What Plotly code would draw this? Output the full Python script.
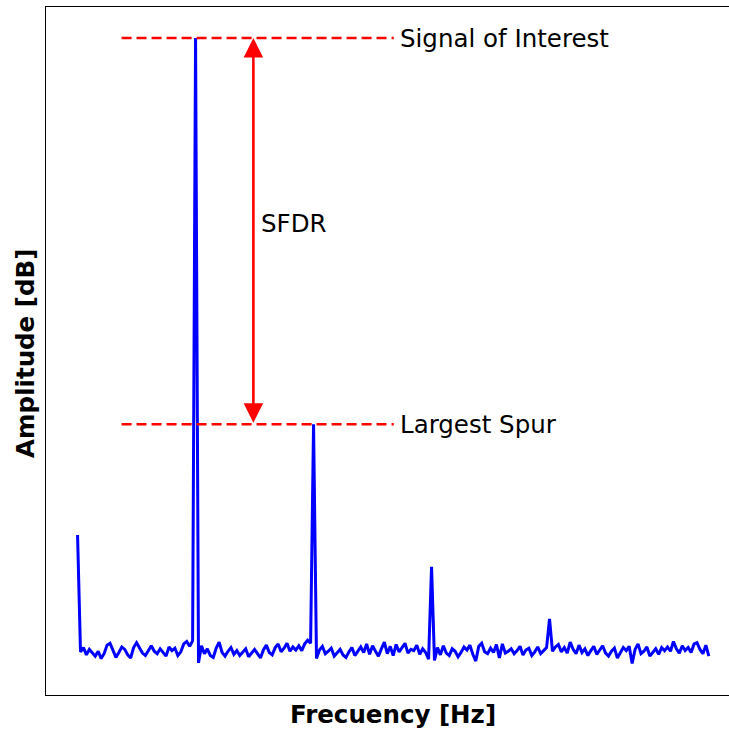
import plotly.graph_objects as go

# Spectrum amplitude (dB), one value every 0.025 frequency units starting at 0
amplitude_db = [
    # 0.000 - 0.975 (DC spur + noise)
    -81.2, -100.3, -99.6, -100.8, -99.9, -100.5, -101.0, -100.2, -101.4, -100.6,
    -99.2, -98.9, -100.1, -101.2, -100.4, -99.5, -99.9, -100.8, -101.3, -99.6,
    -98.8, -99.7, -100.5, -100.9, -100.0, -99.3, -100.2, -100.6, -99.8, -100.4,
    -101.0, -99.5, -100.1, -99.7, -100.9, -100.3, -99.0, -98.6, -99.4, -98.5,
    # 1.000 - 1.975 (signal of interest)
    0.0, -102.1, -99.3, -100.6, -99.8, -100.9, -101.2, -99.7, -98.7, -100.4,
    -101.0, -100.2, -99.6, -100.7, -100.1, -100.9, -100.3, -99.8, -101.1, -100.5,
    -99.9, -100.6, -101.3, -100.0, -99.2, -100.4, -100.8, -99.6, -99.0, -100.3,
    -99.7, -98.9, -100.2, -99.5, -100.0, -99.3, -100.1, -99.0, -98.4, -98.9,
    # 2.000 - 2.975 (largest spur)
    -63.1, -101.4, -100.0, -99.4, -100.6, -100.2, -99.7, -101.0, -100.5, -99.9,
    -100.8, -101.2, -100.3, -99.6, -100.9, -100.1, -99.5, -100.4, -99.0, -100.7,
    -99.3, -100.2, -101.0, -99.8, -98.7, -100.6, -99.4, -100.9, -99.1, -100.3,
    -99.6, -98.9, -100.5, -99.9, -100.1, -99.2, -100.7, -99.8, -100.4, -101.5,
    # 3.000 - 3.975
    -86.4, -101.7, -99.6, -100.8, -99.3, -100.5, -100.9, -99.8, -100.2, -101.1,
    -100.4, -99.5, -100.0, -99.2, -100.7, -101.8, -99.4, -98.9, -100.3, -100.6,
    -99.7, -100.4, -99.1, -101.3, -99.0, -100.5, -100.2, -99.8, -100.6, -100.1,
    -99.4, -100.8, -100.0, -99.7, -100.9, -100.3, -99.5, -100.6, -100.1, -99.6,
    # 4.000 - 4.975
    -94.9, -100.2, -99.5, -99.1, -100.3, -99.6, -100.5, -98.7, -99.9, -100.6,
    -99.2, -100.4, -99.8, -100.9, -100.1, -99.4, -100.7, -100.0, -99.3, -100.5,
    -101.0, -100.2, -99.7, -101.3, -100.4, -99.6, -100.1, -99.4, -102.2, -99.9,
    -99.0, -100.6, -100.2, -99.5, -101.0, -100.3, -99.8, -100.7, -99.6, -100.1,
    # 5.000 - 5.350
    -99.5, -100.2, -98.6, -99.8, -100.5, -99.3, -100.1, -99.6, -100.4, -99.0,
    -98.8, -99.9, -100.6, -99.2, -101.0,
]
freq_step = 0.025
frequency = [i * freq_step for i in range(len(amplitude_db))]

signal_level = 0.0
spur_level = -63.1
marker_x_range = [0.373, 2.68]
arrow_x = 1.49
label_x = 2.715

fig = go.Figure()
fig.add_trace(go.Scatter(x=frequency, y=amplitude_db, mode="lines",
                         line=dict(color="#0000ff", width=3), showlegend=False,
                         hoverinfo="skip"))

for lvl in (signal_level, spur_level):
    fig.add_trace(go.Scatter(x=marker_x_range, y=[lvl, lvl], mode="lines",
                             line=dict(color="#ff0000", width=2.6, dash="10px,5px"),
                             showlegend=False, hoverinfo="skip"))

font = dict(family="DejaVu Sans", size=24.5, color="black")
fig.add_annotation(x=label_x, y=signal_level, text="Signal of Interest", showarrow=False,
                   xanchor="left", yanchor="middle", font=font)
fig.add_annotation(x=label_x, y=spur_level, text="Largest Spur", showarrow=False,
                   xanchor="left", yanchor="middle", font=font)
fig.add_annotation(x=arrow_x + 0.045, y=(signal_level + spur_level) / 2 + 1.3, text="SFDR",
                   showarrow=False, xanchor="left", yanchor="middle", font=font)

# double arrow
fig.add_annotation(x=arrow_x, y=signal_level, ax=arrow_x, ay=spur_level,
                   xref="x", yref="y", axref="x", ayref="y", text="",
                   showarrow=True, arrowhead=2, startarrowhead=2, arrowside="end+start",
                   arrowsize=1.5, startarrowsize=1.5, arrowwidth=2.6, arrowcolor="#ff0000")

bold = dict(family="DejaVu Sans", size=24.5, color="black", weight="bold")
fig.add_annotation(x=0.508, y=-0.029, xref="paper", yref="paper", text="<b>Frecuency [Hz]</b>",
                   showarrow=False, xanchor="center", yanchor="middle", font=bold)
fig.add_annotation(x=-0.031, y=0.497, xref="paper", yref="paper", text="<b>Amplitude [dB]</b>",
                   showarrow=False, xanchor="center", yanchor="middle", textangle=-90, font=bold)

fig.update_layout(
    width=729, height=731,
    margin=dict(l=46, r=0, t=7, b=36),
    plot_bgcolor="white", paper_bgcolor="white",
    xaxis=dict(range=[-0.2675, 5.521], showgrid=False, zeroline=False, showticklabels=False,
               ticks="", showline=True, mirror=True, linecolor="black", linewidth=1.3),
    yaxis=dict(range=[-107.35, 5.07], showgrid=False, zeroline=False, showticklabels=False,
               ticks="", showline=True, mirror=False, linecolor="black", linewidth=1.3),
)

fig.write_html("out.html")
